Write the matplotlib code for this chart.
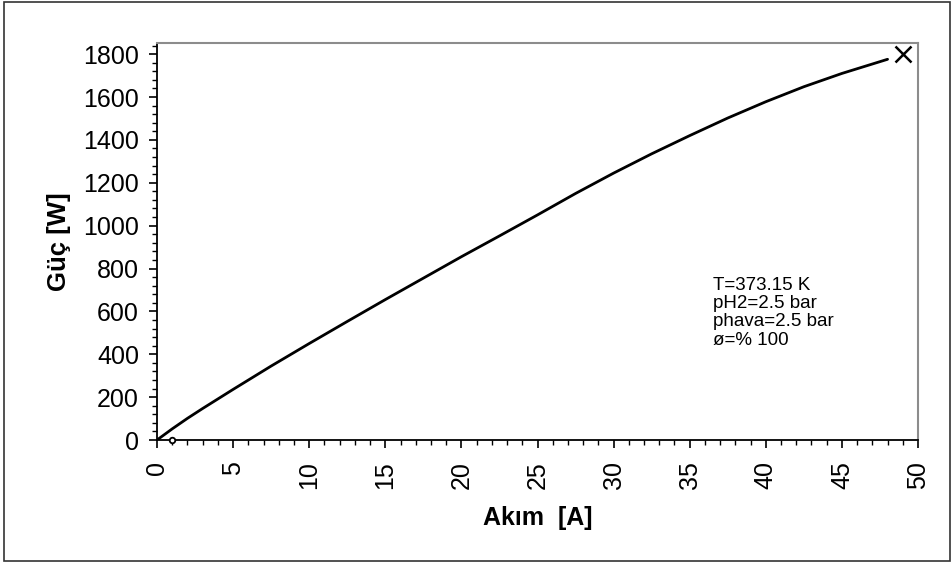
import matplotlib
matplotlib.use("Agg")
import matplotlib.pyplot as plt
from matplotlib.patches import Rectangle
from matplotlib.ticker import MultipleLocator

plt.rcParams['font.family'] = ['Liberation Sans', 'DejaVu Sans']

# current [A] vs power [W]
akim = [0, 1, 2, 3, 5, 7.5, 10, 12.5, 15, 17.5, 20, 22.5, 25, 27.5, 30, 32.5, 35,
        37.5, 40, 42.5, 45, 48]
guc = [0, 52, 101, 147, 236, 345, 450, 553, 655, 755, 855, 952, 1050, 1150, 1245,
       1335, 1420, 1502, 1578, 1648, 1710, 1776]

# end marker and small origin marker
end_x, end_y = [49], [1800]
start_x, start_y = [1], [0]

info_lines = ["T=373.15 K", "pH2=2.5 bar", "phava=2.5 bar", "ø=% 100"]

fig = plt.figure(figsize=(9.53, 5.63), dpi=100)
ax = fig.add_axes([157 / 953, 1 - 440 / 563, (918 - 157) / 953, (440 - 43) / 563])

ax.plot(akim, guc, color='black', lw=2.0, solid_capstyle='round', solid_joinstyle='round')
ax.plot(end_x, end_y, marker='x', color='black', ms=11, mew=1.8, ls='none', clip_on=False)
ax.plot(start_x, start_y, marker='o', mfc='white', mec='black', ms=4, mew=1.3,
        ls='none', clip_on=False, zorder=5)

ax.set_xlim(0, 50)
ax.set_ylim(0, 1852)
ax.xaxis.set_major_locator(MultipleLocator(5))
ax.xaxis.set_minor_locator(MultipleLocator(1))
ax.yaxis.set_major_locator(MultipleLocator(200))
ax.yaxis.set_minor_locator(MultipleLocator(40))

ax.tick_params(which='major', direction='out', length=6, width=1.2, labelsize=18, color='black')
ax.tick_params(which='minor', direction='out', length=3.6, width=1.0, color='black')
ax.tick_params(axis='x', which='major', pad=9, labelrotation=90)
ax.tick_params(axis='y', which='major', pad=7)

for side in ['left', 'bottom']:
    ax.spines[side].set_color('black')
    ax.spines[side].set_linewidth(1.3)
for side in ['top', 'right']:
    ax.spines[side].set_color('#8c8c8c')
    ax.spines[side].set_linewidth(1.5)

ax.set_xlabel('Akım  [A]', fontsize=18, fontweight='bold', labelpad=12)
ax.set_ylabel('Güç [W]', fontsize=18.5, fontweight='bold', labelpad=9)

for i, line in enumerate(info_lines):
    fig.text(713 / 953, 1 - (285 + i * 18.5) / 563, line, fontsize=13.5,
             ha='left', va='center')

# outer frame around the whole chart
fig.patches.append(Rectangle((4 / 953, 2 / 563), 946 / 953, 559 / 563,
                             transform=fig.transFigure, fill=False,
                             edgecolor='#333333', lw=1.2))

fig.savefig('out.png', dpi=100)
